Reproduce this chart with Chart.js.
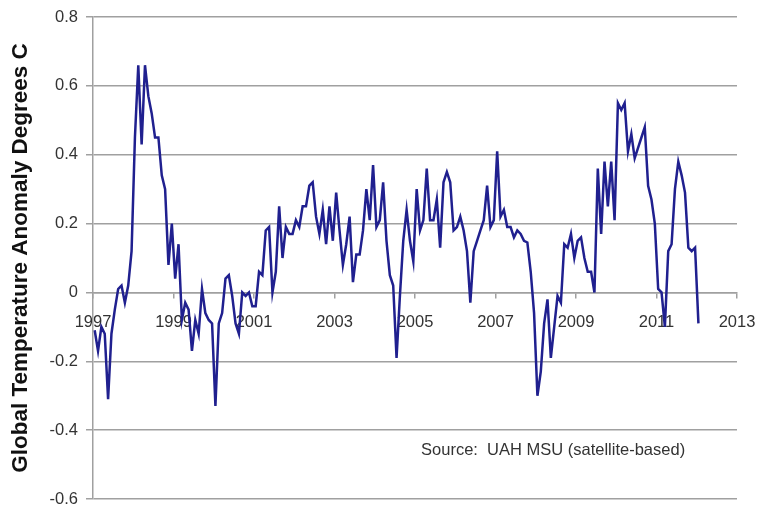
<!DOCTYPE html>
<html>
<head>
<meta charset="utf-8">
<script src="https://cdn.jsdelivr.net/npm/chart.js@4.4.1/dist/chart.umd.min.js"></script>
<style>
  html, body { margin: 0; padding: 0; background: #fff; }
</style>
</head>
<body>
<canvas id="chart" width="760" height="508"></canvas>
<script>
// monthly UAH anomalies, Jan 1997 .. Jan 2012
const startYear = 1997;
const anomalies = [
  -0.11, -0.17, -0.10, -0.12, -0.31, -0.12, -0.05, 0.01, 0.02, -0.03, 0.02, 0.12,
  0.45, 0.66, 0.43, 0.66, 0.57, 0.52, 0.45, 0.45, 0.34, 0.30, 0.08, 0.20,
  0.04, 0.14, -0.08, -0.03, -0.05, -0.17, -0.08, -0.12, 0.01, -0.06, -0.08, -0.09,
  -0.33, -0.09, -0.06, 0.04, 0.05, -0.01, -0.09, -0.12, 0.00, -0.01, 0.00, -0.04,
  -0.04, 0.06, 0.05, 0.18, 0.19, 0.00, 0.06, 0.25, 0.10, 0.19, 0.17, 0.17,
  0.21, 0.19, 0.25, 0.25, 0.31, 0.32, 0.22, 0.17, 0.24, 0.14, 0.25, 0.15,
  0.29, 0.18, 0.08, 0.14, 0.22, 0.03, 0.11, 0.11, 0.18, 0.30, 0.21, 0.37,
  0.19, 0.21, 0.32, 0.15, 0.05, 0.02, -0.19, -0.01, 0.15, 0.24, 0.15, 0.09,
  0.30, 0.18, 0.21, 0.36, 0.21, 0.21, 0.27, 0.13, 0.32, 0.35, 0.32, 0.18,
  0.19, 0.22, 0.18, 0.12, -0.03, 0.12, 0.15, 0.18, 0.21, 0.31, 0.19, 0.21,
  0.41, 0.22, 0.24, 0.19, 0.19, 0.16, 0.18, 0.17, 0.15, 0.145, 0.06, -0.06,
  -0.30, -0.23, -0.09, -0.02, -0.19, -0.10, -0.01, -0.03, 0.14, 0.13, 0.17, 0.10,
  0.15, 0.16, 0.10, 0.06, 0.06, 0.00, 0.36, 0.17, 0.38, 0.25, 0.38, 0.21,
  0.55, 0.53, 0.55, 0.41, 0.46, 0.39, 0.42, 0.45, 0.48, 0.31, 0.27, 0.20,
  0.01, 0.00, -0.10, 0.12, 0.14, 0.30, 0.38, 0.34, 0.29, 0.13, 0.12, 0.13,
  -0.09
];
const yearTicks = [1997, 1999, 2001, 2003, 2005, 2007, 2009, 2011, 2013];
const anomalyTicks = [-0.6, -0.4, -0.2, 0, 0.2, 0.4, 0.6, 0.8];
const yTitle = 'Global Temperature Anomaly Degrees C';
const sourceNote = 'Source:  UAH MSU (satellite-based)';

const FONT = '"Liberation Sans", Arial, sans-serif';
const GRID = '#a0a0a0';

// each month plotted at its middle
const points = anomalies.map((v, i) => ({ x: startYear + (i + 0.5) / 12, y: v }));

const sourcePlugin = {
  id: 'sourceNote',
  afterDraw(chart) {
    let { ctx, scales: { x, y } } = chart;
    ctx.save();
    ctx.font = '16.5px ' + FONT;
    ctx.fillStyle = '#333';
    ctx.textAlign = 'left';
    ctx.textBaseline = 'middle';
    ctx.fillText(sourceNote, x.getPixelForValue(2005.15), y.getPixelForValue(-0.46));
    ctx.restore();
  }
};

new Chart(document.getElementById('chart'), {
  type: 'line',
  data: {
    datasets: [{
      data: points,
      borderColor: '#20208f',
      borderWidth: 2.5,
      pointRadius: 0,
      tension: 0,
      fill: false
    }]
  },
  options: {
    responsive: false,
    animation: false,
    devicePixelRatio: 1,
    layout: { padding: { top: 17, right: 23, bottom: 9, left: 0 } },
    plugins: {
      legend: { display: false },
      tooltip: { enabled: false }
    },
    scales: {
      x: {
        type: 'linear',
        position: { y: 0 },
        min: yearTicks[0],
        max: yearTicks[yearTicks.length - 1],
        afterBuildTicks: s => { s.ticks = yearTicks.map(v => ({ value: v })); },
        // the layout padding decides the edges, not the label overhang
        afterFit: s => { s.paddingLeft = 0; s.paddingRight = 0; },
        grid: { drawOnChartArea: false, drawTicks: true, tickLength: 5, color: GRID, lineWidth: 1.5 },
        border: { display: true, color: GRID, width: 1.5 },
        ticks: {
          padding: 15,
          color: '#333',
          font: { family: FONT, size: 16.5 },
          maxRotation: 0,
          callback: v => String(v)
        }
      },
      y: {
        min: anomalyTicks[0],
        max: anomalyTicks[anomalyTicks.length - 1],
        afterBuildTicks: s => { s.ticks = anomalyTicks.map(v => ({ value: v })); },
        afterFit: s => { s.width = 93; s.paddingTop = 0; s.paddingBottom = 0; },
        grid: { color: GRID, lineWidth: 1.5, tickLength: 7 },
        border: { color: GRID, width: 1.5 },
        ticks: {
          padding: 8,
          color: '#333',
          font: { family: FONT, size: 16.5, lineHeight: 1 },
          callback: v => Math.abs(v) < 1e-9 ? '0' : v.toFixed(1)
        },
        title: {
          display: true,
          text: yTitle,
          color: '#111',
          padding: { top: 7, bottom: 0 },
          font: { family: FONT, size: 22.5, weight: 'bold' }
        }
      }
    }
  },
  plugins: [sourcePlugin]
});
</script>
</body>
</html>
